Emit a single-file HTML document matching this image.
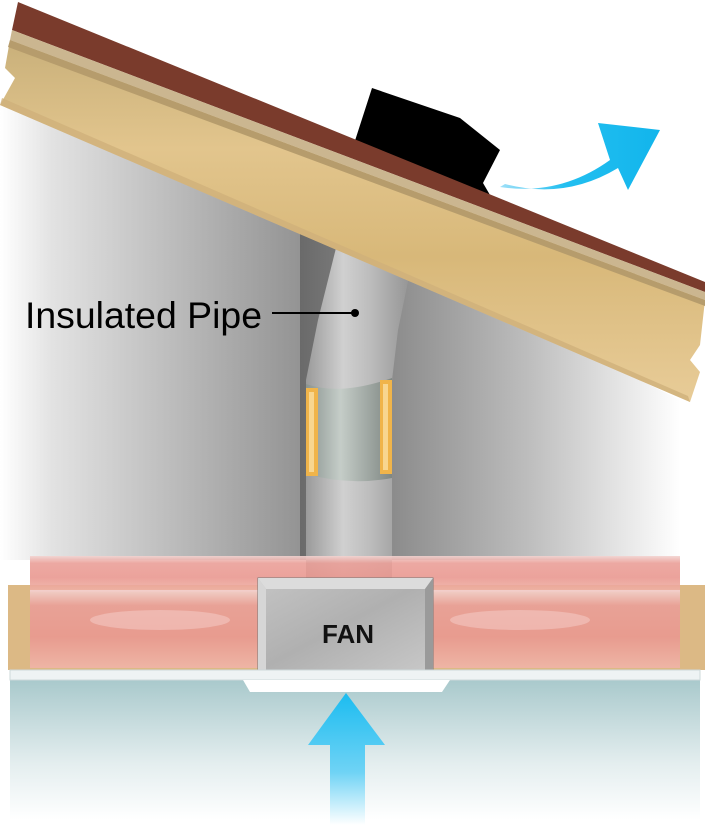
<!DOCTYPE html>
<html><head><meta charset="utf-8"><style>
html,body{margin:0;padding:0;background:#fff;width:711px;height:825px;overflow:hidden}
</style></head><body>
<svg width="711" height="825" viewBox="0 0 711 825" xmlns="http://www.w3.org/2000/svg">
<defs>
<linearGradient id="wallL" x1="0" x2="1" y1="0" y2="0">
<stop offset="0" stop-color="#fff"/><stop offset="0.15" stop-color="#e2e2e2"/><stop offset="0.9" stop-color="#8f8f8f"/><stop offset="1" stop-color="#707070"/></linearGradient>
<linearGradient id="wallR" x1="0" x2="1" y1="0" y2="0">
<stop offset="0" stop-color="#6a6a6a"/><stop offset="0.6" stop-color="#bdbdbd"/><stop offset="1" stop-color="#fff"/></linearGradient>
<linearGradient id="wood" x1="0" x2="0" y1="0" y2="1">
<stop offset="0" stop-color="#c9b07a"/><stop offset="0.3" stop-color="#e2c58d"/><stop offset="0.6" stop-color="#d8b879"/><stop offset="1" stop-color="#e8cc98"/></linearGradient>
<linearGradient id="pipe" x1="0" x2="1" y1="0" y2="0">
<stop offset="0" stop-color="#9a9a9a"/><stop offset="0.35" stop-color="#d0d0d0"/><stop offset="0.6" stop-color="#bdbdbd"/><stop offset="1" stop-color="#939393"/></linearGradient>
<linearGradient id="inner" x1="0" x2="1" y1="0" y2="0">
<stop offset="0" stop-color="#8a9490"/><stop offset="0.4" stop-color="#c5cdc8"/><stop offset="1" stop-color="#7f8783"/></linearGradient>
<linearGradient id="pink" x1="0" x2="0" y1="0" y2="1">
<stop offset="0" stop-color="#f3d3d0"/><stop offset="0.2" stop-color="#ea9f98"/><stop offset="0.6" stop-color="#e99890"/><stop offset="1" stop-color="#f0b4a8"/></linearGradient>
<linearGradient id="room" x1="0" x2="0" y1="0" y2="1">
<stop offset="0" stop-color="#a9c9cc"/><stop offset="0.6" stop-color="#e4eeef"/><stop offset="1" stop-color="#fff"/></linearGradient>
<linearGradient id="blueUp" x1="0" x2="0" y1="0" y2="1">
<stop offset="0" stop-color="#1cbcf0"/><stop offset="0.6" stop-color="#6fd3f5"/><stop offset="1" stop-color="#fff"/></linearGradient>
<linearGradient id="blueR" x1="0" x2="1" y1="0" y2="0">
<stop offset="0" stop-color="#9fe0f8"/><stop offset="0.4" stop-color="#23bff0"/><stop offset="1" stop-color="#12b5ec"/></linearGradient>
<linearGradient id="fan" x1="0" x2="1" y1="0" y2="1">
<stop offset="0" stop-color="#c4c4c4"/><stop offset="0.5" stop-color="#b0b0b0"/><stop offset="1" stop-color="#c8c8c8"/></linearGradient>
</defs>

<polygon points="0,105 350,225 330,560 0,560" fill="url(#wallL)"/>
<polygon points="300,210 680,400 680,560 300,560" fill="url(#wallR)"/>
<polygon points="0,0 0,105 300,210 300,0" fill="#fff"/>

<rect x="10" y="680" width="690" height="140" fill="url(#room)"/>

<path d="M338,240 L412,262 L398,330 L392,380 L392,580 L306,580 L306,380 L318,320 Z" fill="url(#pipe)"/>
<path d="M306,384 Q340,396 392,378 L392,478 Q350,486 306,474 Z" fill="url(#inner)"/>
<rect x="306" y="388" width="12" height="88" fill="#f0b44a"/>
<rect x="380" y="380" width="12" height="94" fill="#f0b44a"/>
<rect x="309" y="392" width="5" height="80" fill="#f8d690"/>
<rect x="383" y="384" width="5" height="86" fill="#f8d690"/>

<polygon points="372,88 460,118 500,150 483,183 490,195 352,150" fill="#000"/>
<polygon points="18,2 705,282 705,292 12,30" fill="#7a3b2c"/>
<polygon points="12,30 705,292 705,300 10,40" fill="#cbb690"/>
<polygon points="10,40 705,300 700,345 690,360 700,372 690,402 0,105 15,78 5,68" fill="url(#wood)"/>
<polygon points="10,40 705,300 705,306 8,47" fill="#b69c6c"/>
<polygon points="0,105 690,402 688,396 2,98" fill="#d0b07a" opacity="0.8"/>

<path d="M500,187 Q560,196 610,160 L598,123 L660,130 L628,190 L618,168 Q565,200 505,184 Z" fill="url(#blueR)"/>

<text x="25" y="328" font-family="Liberation Sans, sans-serif" font-size="37" fill="#000" textLength="237" lengthAdjust="spacingAndGlyphs">Insulated Pipe</text>
<line x1="272" y1="313" x2="352" y2="313" stroke="#000" stroke-width="2"/>
<circle cx="355" cy="313" r="4" fill="#000"/>

<rect x="8" y="585" width="697" height="85" fill="#dcb985"/>
<rect x="30" y="556" width="650" height="36" fill="url(#pink)" opacity="0.9"/>
<rect x="30" y="590" width="650" height="78" fill="url(#pink)" opacity="0.9"/>
<ellipse cx="160" cy="620" rx="70" ry="10" fill="#f6d0cc" opacity="0.5"/>
<ellipse cx="520" cy="620" rx="70" ry="10" fill="#f6d0cc" opacity="0.5"/>

<rect x="258" y="578" width="175" height="93" fill="url(#fan)" stroke="#777" stroke-width="1"/>
<polygon points="258,578 433,578 425,589 266,589" fill="#dcdcdc"/>
<polygon points="425,589 433,578 433,671 425,671" fill="#9a9a9a"/>
<polygon points="258,578 266,589 266,671 258,671" fill="#d6d6d6"/>
<text x="348" y="643" text-anchor="middle" font-family="Liberation Sans, sans-serif" font-weight="bold" font-size="26" fill="#111">FAN</text>

<rect x="10" y="670" width="690" height="10" fill="#eef3f4" stroke="#cdd8da" stroke-width="1"/>
<polygon points="243,680 450,680 442,692 250,692" fill="#fff"/>

<polygon points="308,745 346,693 385,745 365,745 365,825 330,825 330,745" fill="url(#blueUp)"/>
</svg>
</body></html>
